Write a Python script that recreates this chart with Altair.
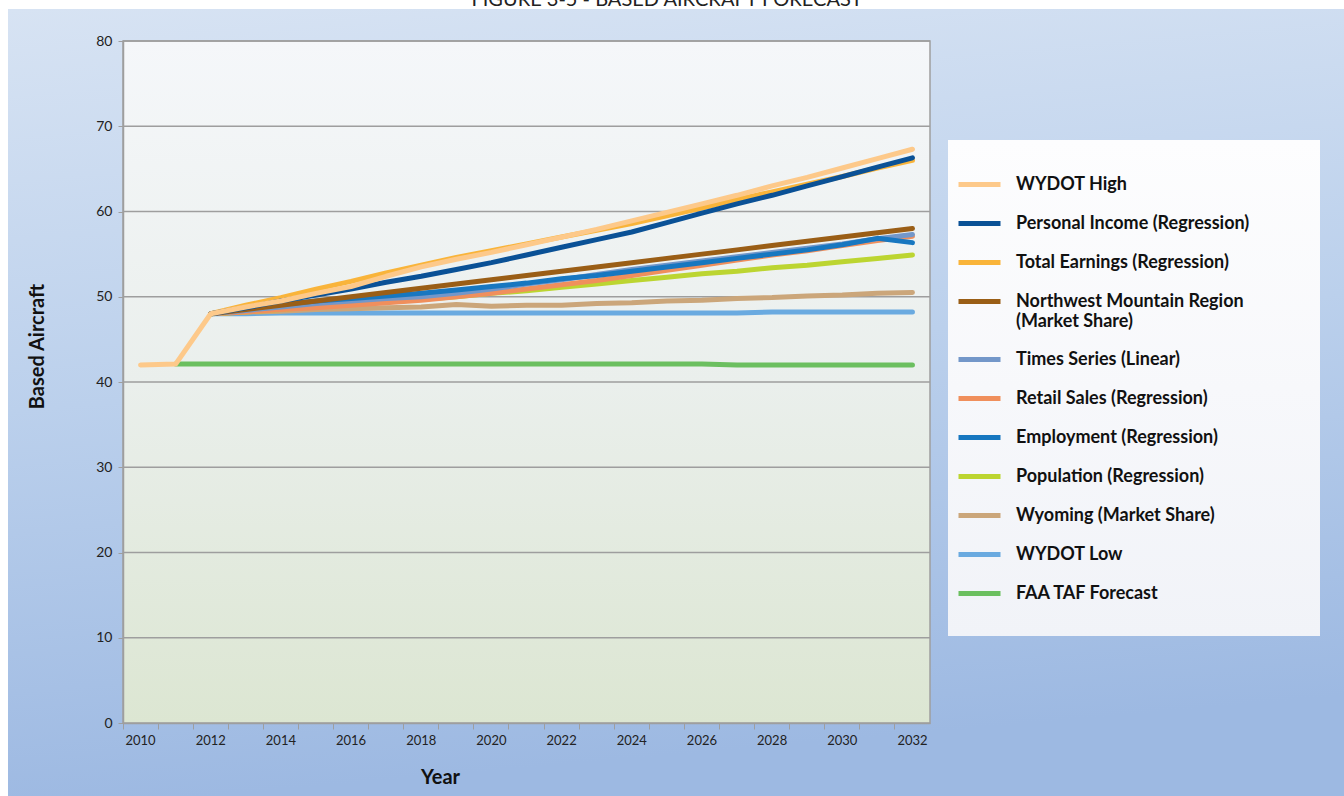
import altair as alt
import pandas as pd

TITLE = "FIGURE 3-5 - BASED AIRCRAFT FORECAST"
YEARS = list(range(2010, 2033))
N = None

SERIES = [
    "WYDOT High",
    "Personal Income (Regression)",
    "Total Earnings (Regression)",
    "Northwest Mountain Region (Market Share)",
    "Times Series (Linear)",
    "Retail Sales (Regression)",
    "Employment (Regression)",
    "Population (Regression)",
    "Wyoming (Market Share)",
    "WYDOT Low",
    "FAA TAF Forecast",
]
COLORS = ["#FDC98A", "#0A5196", "#F9B43A", "#9A5E16", "#7397C9", "#F08F5C",
          "#1777C0", "#BCD531", "#CBA67A", "#6AAAE0", "#6BBF5F"]

wydot_high = [42.0, 42.1, 48.0, 48.8, 49.5, 50.4, 51.2, 52.4, 53.5, 54.4, 55.2, 56.1,
              57.0, 57.9, 58.9, 59.9, 60.9, 61.9, 63.0, 64.0, 65.1, 66.2, 67.3]
personal_income = [N, N, 48.0, 48.7, 49.5, 50.2, 50.9, 51.7, 52.4, 53.2, 54.0, 54.9,
                   55.8, 56.7, 57.6, 58.7, 59.8, 60.9, 61.9, 63.0, 64.1, 65.2, 66.3]
total_earnings = [N, N, 48.0, 49.0, 49.9, 50.9, 51.8, 52.8, 53.7, 54.6, 55.4, 56.2,
                  57.0, 57.8, 58.6, 59.5, 60.4, 61.4, 62.3, 63.2, 64.1, 65.1, 66.0]
nw_mountain = [N, N, 48.0, 48.5, 49.0, 49.5, 50.0, 50.5, 51.0, 51.5, 52.0, 52.5,
               53.0, 53.5, 54.0, 54.5, 55.0, 55.5, 56.0, 56.5, 57.0, 57.5, 58.0]
times_series = [N, N, 48.0, 48.4, 48.8, 49.2, 49.5, 49.8, 50.0, 50.4, 50.9, 51.5,
                52.0, 52.6, 53.2, 53.7, 54.2, 54.7, 55.2, 55.7, 56.2, 56.8, 57.3]
retail_sales = [N, N, 48.0, 48.2, 48.5, 48.7, 49.0, 49.3, 49.6, 50.0, 50.4, 50.9,
                51.4, 51.9, 52.5, 53.1, 53.7, 54.3, 54.9, 55.4, 56.0, 56.6, 57.1]
employment = [N, N, 48.0, 48.6, 49.1, 49.5, 49.8, 50.1, 50.4, 50.8, 51.2, 51.6,
              52.1, 52.5, 53.0, 53.5, 54.0, 54.5, 55.0, 55.5, 56.1, 56.85, 56.35]
population = [N, N, 48.0, 48.2, 48.5, 48.8, 49.1, 49.4, 49.7, 50.0, 50.4, 50.7,
              51.1, 51.5, 51.9, 52.3, 52.7, 53.0, 53.4, 53.7, 54.1, 54.5, 54.9]
wyoming = [N, N, 48.0, 48.2, 48.3, 48.5, 48.6, 48.7, 48.8, 49.1, 48.9, 49.0,
           49.0, 49.2, 49.3, 49.5, 49.6, 49.8, 49.9, 50.1, 50.2, 50.4, 50.5]
wydot_low = [N, N, 48.0, 48.0, 48.1, 48.1, 48.1, 48.1, 48.1, 48.1, 48.1, 48.1,
             48.1, 48.1, 48.1, 48.1, 48.1, 48.1, 48.2, 48.2, 48.2, 48.2, 48.2]
faa_taf = [N, 42.1, 42.1, 42.1, 42.1, 42.1, 42.1, 42.1, 42.1, 42.1, 42.1, 42.1,
           42.1, 42.1, 42.1, 42.1, 42.1, 42.0, 42.0, 42.0, 42.0, 42.0, 42.0]

VALUES = {
    "WYDOT High": wydot_high,
    "Personal Income (Regression)": personal_income,
    "Total Earnings (Regression)": total_earnings,
    "Northwest Mountain Region (Market Share)": nw_mountain,
    "Times Series (Linear)": times_series,
    "Retail Sales (Regression)": retail_sales,
    "Employment (Regression)": employment,
    "Population (Regression)": population,
    "Wyoming (Market Share)": wyoming,
    "WYDOT Low": wydot_low,
    "FAA TAF Forecast": faa_taf,
}
# drawing order, bottom to top
DRAW_ORDER = ["FAA TAF Forecast", "WYDOT Low", "Wyoming (Market Share)",
              "Population (Regression)", "Retail Sales (Regression)",
              "Times Series (Linear)", "Employment (Regression)",
              "Northwest Mountain Region (Market Share)",
              "Total Earnings (Regression)", "Personal Income (Regression)",
              "WYDOT High"]
GRID_VALUES = [10, 20, 30, 40, 50, 60, 70, 80]

rows = []
for name in DRAW_ORDER:
    for yr, v in zip(YEARS, VALUES[name]):
        if v is not None:
            rows.append({"Year": yr, "Series": name, "Value": v})
df = pd.DataFrame(rows)

W, H = 807, 682
FONT = "Lato"
GRAY = "#9E9E9E"

one = alt.Data(values=[{"k": 0}])

def grad(stops, x2=0, y2=1):
    return alt.Gradient(
        gradient="linear",
        stops=[alt.GradientStop(offset=o, color=c) for o, c in stops],
        x1=0, y1=0, x2=x2, y2=y2,
    )

page_bg = alt.Chart(one).mark_rect(
    fill=grad([(0, "#D7E3F3"), (0.5, "#BBD0EC"), (1, "#9DB9E2")], x2=0.15, y2=1)
).encode(x=alt.value(-115), x2=alt.value(1221), y=alt.value(-32), y2=alt.value(755))

plot_bg = alt.Chart(one).mark_rect(
    fill=grad([(0, "#F5F7FA"), (0.5, "#EAEFEC"), (1, "#DCE6D2")]),
    stroke=GRAY, strokeWidth=1.5,
).encode(x=alt.value(0), x2=alt.value(W), y=alt.value(0), y2=alt.value(H))

legend_bg = alt.Chart(one).mark_rect(
    fill=grad([(0, "#FDFDFE"), (1, "#F1F3F8")]),
).encode(x=alt.value(825), x2=alt.value(1197), y=alt.value(99), y2=alt.value(595))

title = alt.Chart(one).mark_text(
    text=TITLE, font=FONT, fontSize=20, color="#222222",
    align="center", baseline="alphabetic",
).encode(x=alt.value(544), y=alt.value(-35))

Y_SCALE = alt.Scale(domain=[0, 80], nice=False)
Y_AXIS = alt.Axis(
    values=list(range(0, 81, 10)), grid=False, zindex=1,
    domainColor=GRAY, domainWidth=1.5, tickColor=GRAY, tickSize=5,
    labelFont=FONT, labelFontSize=14, labelColor="#222222", labelPadding=6,
    title="Based Aircraft", titleFont=FONT, titleFontSize=20, titleFontWeight="bold",
    titleColor="#111111", titleX=-86, titleY=305, titleAngle=270,
    titleAlign="center", titleBaseline="middle",
)

grid = alt.Chart(pd.DataFrame({"Value": GRID_VALUES})).mark_rule(
    color=GRAY, strokeWidth=1.5
).encode(y=alt.Y("Value:Q", scale=Y_SCALE, axis=Y_AXIS))

label_expr = ("datum.label == 'Northwest Mountain Region (Market Share)' ? "
              "['Northwest Mountain Region', '(Market Share)'] : datum.label")

lines = alt.Chart(df).mark_line(
    strokeWidth=5, strokeCap="round", strokeJoin="round"
).encode(
    x=alt.X("Year:O",
            scale=alt.Scale(type="band", domain=YEARS, paddingInner=0, paddingOuter=0),
            axis=alt.Axis(
                labelExpr="datum.value % 2 == 0 ? datum.label : ''",
                labelAngle=0, bandPosition=0, grid=False, zindex=1,
                domainColor=GRAY, domainWidth=1.5, tickColor=GRAY, tickSize=6,
                labelFont=FONT, labelFontSize=13, labelColor="#222222", labelPadding=5,
                title="Year", titleFont=FONT, titleFontSize=20, titleFontWeight="bold",
                titleColor="#111111", titleX=317, titleY=54, titleBaseline="middle",
                titleAlign="center",
            )),
    y=alt.Y("Value:Q", scale=Y_SCALE, axis=Y_AXIS),
    color=alt.Color("Series:N",
                    scale=alt.Scale(domain=SERIES, range=COLORS),
                    legend=alt.Legend(
                        title=None, orient="none", legendX=833, legendY=120,
                        symbolType="stroke", symbolStrokeWidth=5, symbolSize=1764,
                        labelFont=FONT, labelFontSize=18, labelFontWeight="bold",
                        labelColor="#111111", labelOffset=13, labelLimit=400,
                        rowPadding=5, padding=0, labelExpr=label_expr,
                    )),
    order=alt.value(0),
)

chart = alt.layer(page_bg, plot_bg, legend_bg, grid, lines, title).properties(
    width=W, height=H,
    padding={"left": 123, "top": 41, "right": 414, "bottom": 73},
    autosize=alt.AutoSizeParams(type="none"),
    background="white",
).configure_view(stroke=None)

chart.save("out.html", embed_options={"renderer": "svg", "actions": False})
